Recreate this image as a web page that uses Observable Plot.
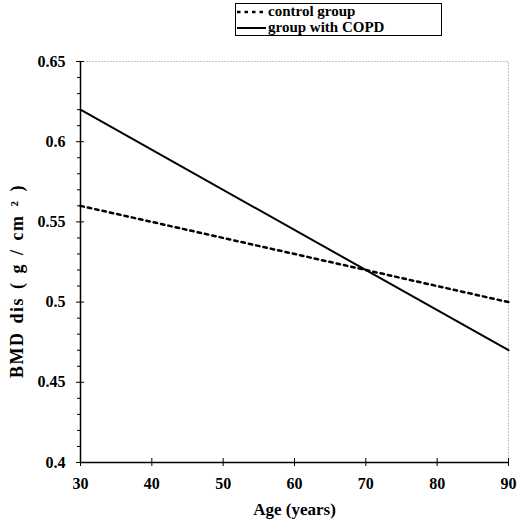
<!DOCTYPE html>
<html>
<head>
<meta charset="utf-8">
<script src="https://cdn.jsdelivr.net/npm/d3@7"></script>
<script src="https://cdn.jsdelivr.net/npm/@observablehq/plot@0.6"></script>
<style>
  body { margin: 0; background: #fff; font-family: "Liberation Serif", "DejaVu Serif", serif; }
  #wrap { position: relative; width: 517px; height: 522px; }
  #legend { position: absolute; left: 235px; top: 3px; width: 207px; height: 33px; border: 1px solid #000; box-sizing: border-box; font-weight: bold; font-size: 15px; line-height: 15px; }
  #legend .row { position: absolute; left: 0; height: 15px; display: flex; align-items: center; }
  #legend svg { display: block; }
  #chart { position: absolute; left: 0; top: 45px; }
</style>
</head>
<body>
<div id="wrap">
  <div id="legend"></div>
  <div id="chart"></div>
</div>
<script>
// Data
const ages = [30, 90];
const controlBMD = [0.56, 0.50];
const copdBMD = [0.62, 0.47];
const seriesNames = ["control group", "group with COPD"];
const xTicks = [30, 40, 50, 60, 70, 80, 90];
const yTicks = [0.4, 0.45, 0.5, 0.55, 0.6, 0.65];
const yMinorTicks = d3.range(40, 66).map(v => v / 100).filter(v => !yTicks.some(t => Math.abs(t - v) < 1e-9));
const xLabel = "Age (years)";
const yLabel = "BMD dis ( g / cm ² )";

const rows = [];
ages.forEach((a, i) => rows.push({age: a, bmd: controlBMD[i], group: seriesNames[0]}));
ages.forEach((a, i) => rows.push({age: a, bmd: copdBMD[i], group: seriesNames[1]}));

const dashes = {[seriesNames[0]]: "3.5,4", [seriesNames[1]]: null};
const widths = {[seriesNames[0]]: 2.5, [seriesNames[1]]: 2};

// Legend (HTML)
const legend = document.getElementById("legend");
seriesNames.forEach((name, i) => {
  const row = document.createElement("div");
  row.className = "row";
  row.style.top = (i === 0 ? 0 : 16) + "px";
  row.innerHTML = `<svg width="32" height="14"><line x1="1" x2="30" y1="7" y2="7" stroke="#000" stroke-width="${widths[name]}" ${dashes[name] ? `stroke-dasharray="${dashes[name]}"` : ""}/></svg><span>${name}</span>`;
  legend.appendChild(row);
});

const fmt = d => String(+d.toFixed(2));

const chart = Plot.plot({
  width: 517,
  height: 477,
  marginTop: 16,
  marginLeft: 80,
  marginRight: 9,
  marginBottom: 60,
  style: {fontFamily: "Liberation Serif, serif", fontSize: "16px", fontWeight: "bold", color: "#000", background: "#fff"},
  x: {domain: [30, 90], axis: null},
  y: {domain: [0.4, 0.65], axis: null},
  marks: [
    Plot.frame({stroke: "#888", strokeDasharray: "1,2"}),
    Plot.ruleX([30], {stroke: "#000", strokeWidth: 1.5}),
    Plot.ruleY([0.4], {stroke: "#000", strokeWidth: 1.5}),
    Plot.axisY(yMinorTicks, {tickSize: 4, dx: 1, tickFormat: () => "", label: null}),
    Plot.axisY(yTicks, {tickSize: 8, dx: 4, tickPadding: 11, tickFormat: fmt, label: null, fontSize: 16, fontWeight: "bold"}),
    Plot.axisX(xTicks, {tickSize: 8, dy: -4, tickPadding: 11, tickFormat: d => String(d), label: null, fontSize: 16, fontWeight: "bold"}),
    Plot.text([yLabel], {frameAnchor: "left", textAnchor: "middle", dx: -63, dy: 19, rotate: -90, fontSize: 18, fontWeight: "bold"}),
    Plot.text([xLabel], {frameAnchor: "bottom", dy: 52, fontSize: 17, fontWeight: "bold"}),
    Plot.line(rows.filter(d => d.group === seriesNames[0]), {x: "age", y: "bmd", stroke: "#000", strokeWidth: widths[seriesNames[0]], strokeDasharray: dashes[seriesNames[0]]}),
    Plot.line(rows.filter(d => d.group === seriesNames[1]), {x: "age", y: "bmd", stroke: "#000", strokeWidth: widths[seriesNames[1]]})
  ]
});
// widen spacing of the y label to match reference
d3.select(chart).selectAll("text").filter(function() { return this.textContent === yLabel; }).style("letter-spacing", "1.5px").style("word-spacing", "2px");
document.getElementById("chart").appendChild(chart);
</script>
</body>
</html>
